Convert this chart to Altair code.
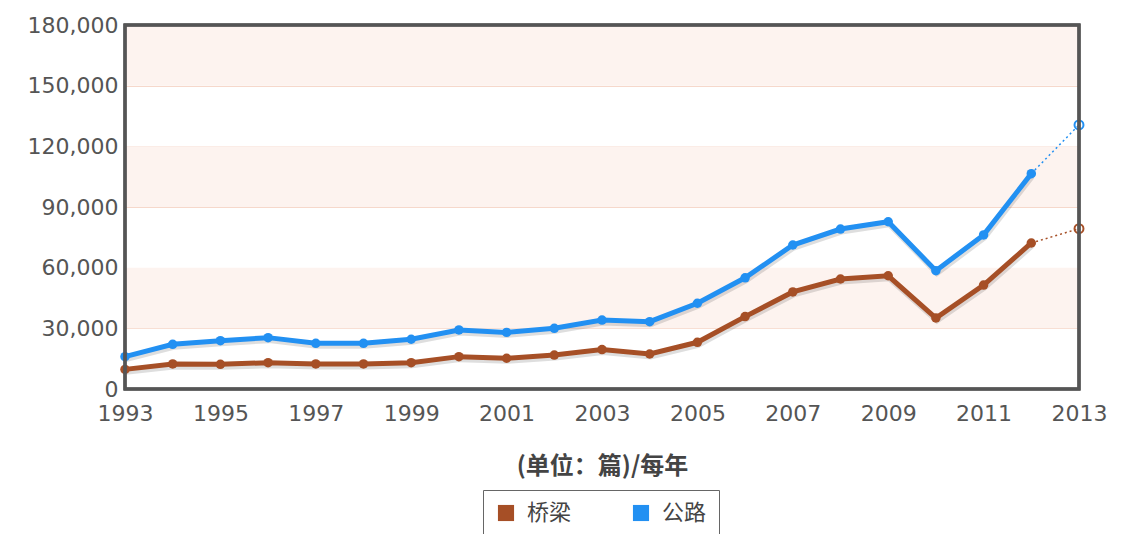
import altair as alt
import pandas as pd

years = list(range(1993, 2014))
bridge = [9700, 12400, 12200, 13000, 12400, 12400, 13000, 16000, 15200, 16800,
          19500, 17300, 23100, 35800, 48000, 54400, 56000, 35100, 51400, 72200, 79300]
road = [16000, 22100, 23900, 25400, 22600, 22600, 24600, 29200, 28000, 30000,
        34100, 33300, 42400, 55000, 71200, 79100, 82700, 58500, 76200, 106500, 130600]
series_names = ["桥梁", "公路"]
series_colors = ["#a64f26", "#2290f2"]
y_ticks = [0, 30000, 60000, 90000, 120000, 150000, 180000]
x_ticks = list(range(1993, 2014, 2))
band_lo = [30000, 90000, 150000]
band_hi = [60000, 120000, 180000]

W, H = 954, 364
FONT = "DejaVu Sans"

rows = []
for i, yr in enumerate(years):
    rows.append({"year": yr, "series": "桥梁", "value": bridge[i]})
    rows.append({"year": yr, "series": "公路", "value": road[i]})
df = pd.DataFrame(rows)
solid = df[df.year <= 2012]
dotted = df[df.year >= 2012]
last = df[df.year == 2013]
bands = pd.DataFrame({"value": band_lo, "hi": band_hi})

xscale = alt.Scale(domain=[1993, 2013], nice=False, zero=False)
yscale = alt.Scale(domain=[0, 180000], nice=False)
cscale = alt.Scale(domain=series_names, range=series_colors)

xaxis = alt.Axis(values=x_ticks, format="d", title="(单位：篇)/每年",
                 labelFontSize=22, labelFont=FONT, labelColor="#555",
                 labelPadding=14, ticks=False, domain=False, grid=False,
                 labelFlush=False, labelOverlap=False, labelBound=False,
                 titleFont="Noto Sans CJK SC", titleFontSize=24,
                 titleFontWeight="bold", titleColor="#444",
                 titlePadding=30)
yaxis = alt.Axis(values=y_ticks, format=",d", title=None,
                 labelFontSize=22, labelFont=FONT, labelColor="#555",
                 labelPadding=7, ticks=False, domain=False,
                 labelFlush=False, labelOverlap=False, labelBound=False,
                 grid=True, gridColor="#f6d8cb", gridWidth=1)

X = alt.X("year:Q", scale=xscale, axis=xaxis)
Y = alt.Y("value:Q", scale=yscale, axis=yaxis)

legend = alt.Legend(title=None, orient="none", legendX=358, legendY=465,
                    direction="horizontal", symbolType="square",
                    symbolSize=260, labelFontSize=22,
                    labelFont="Noto Sans CJK SC", labelColor="#444",
                    strokeColor="#666", fillColor="white",
                    padding=12, columnPadding=58, labelOffset=10,
                    symbolStrokeWidth=0)
C = alt.Color("series:N", scale=cscale, legend=legend)

band_layer = alt.Chart(bands).mark_rect(color="#fdf3ef").encode(
    x=alt.value(0), x2=alt.value(W), y=Y, y2="hi:Q")

shadow = alt.Chart(solid).mark_line(color="#000", opacity=0.13, strokeWidth=5,
                                     yOffset=3, xOffset=1).encode(
    x=X, y=Y, detail="series:N")

lines = alt.Chart(solid).mark_line(strokeWidth=5).encode(x=X, y=Y, color=C)

dots = alt.Chart(dotted).mark_line(strokeWidth=1.5, strokeDash=[2, 3]).encode(
    x=X, y=Y, color=C)

pts = alt.Chart(solid).mark_point(filled=True, size=90, opacity=1).encode(
    x=X, y=Y, color=C)

hollow = alt.Chart(last).mark_point(filled=False, size=80, strokeWidth=2, opacity=1).encode(
    x=X, y=Y, color=C)

frame = alt.Chart(bands).mark_rect(fill=None, stroke="#555", strokeWidth=3).encode(
    x=alt.value(0), x2=alt.value(W), y=alt.value(0), y2=alt.value(H))

chart = alt.layer(band_layer, shadow, lines, dots, pts, hollow, frame).properties(
    width=W, height=H,
    background="white",
    autosize=alt.AutoSizeParams(type="none"),
    padding={"left": 117, "top": 17, "right": 40, "bottom": 150},
).configure_view(stroke=None)

chart.save("out.html", embed_options={"renderer": "svg", "actions": False})
